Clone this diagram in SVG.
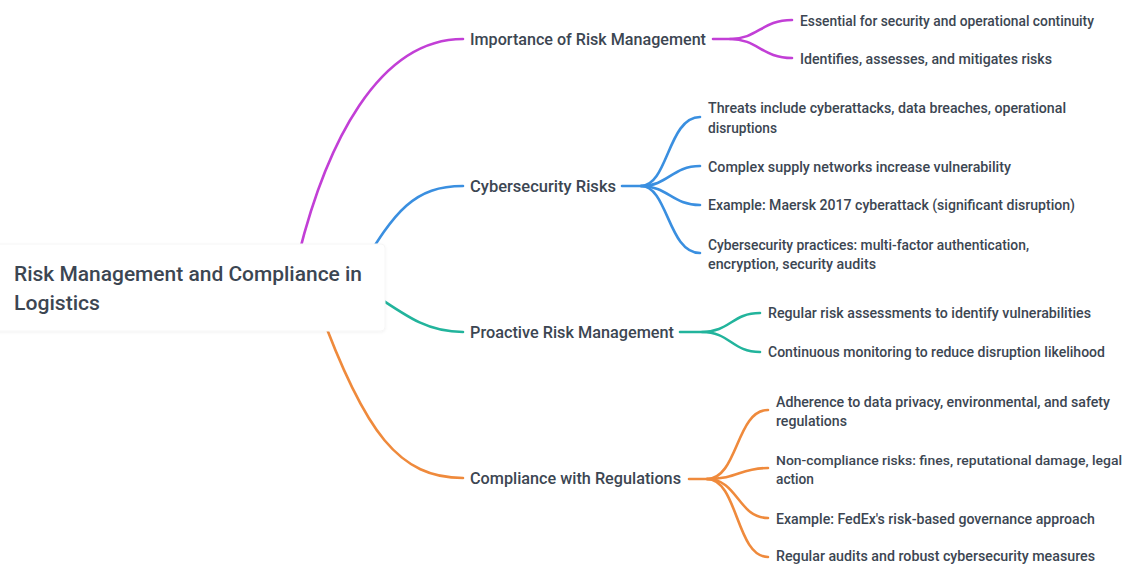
<svg xmlns="http://www.w3.org/2000/svg" width="1132" height="564" viewBox="0 0 1132 564">
<defs>
<style>
.t{font-family:Roboto,"Liberation Sans",sans-serif;fill:#3c4652;font-weight:500;}
.root{font-size:21px;}
.l1{font-size:17px;}
.l2{font-size:14.5px;}
.ln{fill:none;stroke-width:2.6;stroke-linecap:round;}
.pu{stroke:#c23fd6;}
.bl{stroke:#3a8fe0;}
.te{stroke:#22b49c;}
.or{stroke:#ef8a3c;}
</style>
<filter id="sh" x="-10%" y="-20%" width="120%" height="150%">
<feDropShadow dx="0" dy="1" stdDeviation="1.5" flood-color="#000" flood-opacity="0.05"/>
</filter>
</defs>
<rect width="1132" height="564" fill="#ffffff"/>
<g id="connectors">
<path class="ln pu" d="M295,270 C325,140 380,39 463,39"/>
<path class="ln bl" d="M360,270 C395,210 415,186 463,186"/>
<path class="ln te" d="M360,285 C405,315 425,332 463,332"/>
<path class="ln or" d="M318,305 C365,435 400,478 463,478"/>
<path class="ln pu" d="M713,39 L730,39 C758,39 762,20 792,20"/>
<path class="ln pu" d="M730,39 C758,39 762,58 792,58"/>
<path class="ln bl" d="M622,186 L641,186 C668,186 668,117 700,117"/>
<path class="ln bl" d="M641,186 C668,186 672,166 700,166"/>
<path class="ln bl" d="M641,186 C668,186 672,205 700,205"/>
<path class="ln bl" d="M641,186 C668,186 668,253 700,253"/>
<path class="ln te" d="M680,332 L702,332 C730,332 732,313 760,313"/>
<path class="ln te" d="M702,332 C730,332 732,352 760,352"/>
<path class="ln or" d="M689,479 L707,479 C738,479 736,410 768,410"/>
<path class="ln or" d="M707,479 C738,479 740,468 768,468"/>
<path class="ln or" d="M707,479 C738,479 738,518 768,518"/>
<path class="ln or" d="M707,479 C738,479 736,557 768,557"/>
</g>
<g id="root">
<rect x="-10" y="244" width="395" height="87" rx="4" fill="#ffffff" stroke="#f6f6f6" filter="url(#sh)"/>
<text class="t root" x="14" y="281" textLength="348" lengthAdjust="spacingAndGlyphs">Risk Management and Compliance in</text>
<text class="t root" x="14" y="310" textLength="86" lengthAdjust="spacingAndGlyphs">Logistics</text>
</g>
<g id="importance">
<text class="t l1" x="470" y="45" textLength="236" lengthAdjust="spacingAndGlyphs">Importance of Risk Management</text>
</g>
<g id="importance-1"><text class="t l2" x="800" y="26" textLength="294" lengthAdjust="spacingAndGlyphs">Essential for security and operational continuity</text></g>
<g id="importance-2"><text class="t l2" x="800" y="64" textLength="252" lengthAdjust="spacingAndGlyphs">Identifies, assesses, and mitigates risks</text></g>
<g id="cyber">
<text class="t l1" x="470" y="192" textLength="146" lengthAdjust="spacingAndGlyphs">Cybersecurity Risks</text>
</g>
<g id="cyber-1">
<text class="t l2" x="708" y="113" textLength="358" lengthAdjust="spacingAndGlyphs">Threats include cyberattacks, data breaches, operational</text>
<text class="t l2" x="708" y="133" textLength="69" lengthAdjust="spacingAndGlyphs">disruptions</text>
</g>
<g id="cyber-2"><text class="t l2" x="708" y="172" textLength="303" lengthAdjust="spacingAndGlyphs">Complex supply networks increase vulnerability</text></g>
<g id="cyber-3"><text class="t l2" x="708" y="210" textLength="367" lengthAdjust="spacingAndGlyphs">Example: Maersk 2017 cyberattack (significant disruption)</text></g>
<g id="cyber-4">
<text class="t l2" x="708" y="250" textLength="321" lengthAdjust="spacingAndGlyphs">Cybersecurity practices: multi-factor authentication,</text>
<text class="t l2" x="708" y="269" textLength="168" lengthAdjust="spacingAndGlyphs">encryption, security audits</text>
</g>
<g id="proactive">
<text class="t l1" x="470" y="338" textLength="204" lengthAdjust="spacingAndGlyphs">Proactive Risk Management</text>
</g>
<g id="proactive-1"><text class="t l2" x="768" y="318" textLength="323" lengthAdjust="spacingAndGlyphs">Regular risk assessments to identify vulnerabilities</text></g>
<g id="proactive-2"><text class="t l2" x="768" y="357" textLength="337" lengthAdjust="spacingAndGlyphs">Continuous monitoring to reduce disruption likelihood</text></g>
<g id="compliance">
<text class="t l1" x="470" y="484" textLength="211" lengthAdjust="spacingAndGlyphs">Compliance with Regulations</text>
</g>
<g id="compliance-1">
<text class="t l2" x="776" y="407" textLength="334" lengthAdjust="spacingAndGlyphs">Adherence to data privacy, environmental, and safety</text>
<text class="t l2" x="776" y="426" textLength="71" lengthAdjust="spacingAndGlyphs">regulations</text>
</g>
<g id="compliance-2">
<text class="t l2" x="776" y="465" style="font-size:13.3px" textLength="346" lengthAdjust="spacingAndGlyphs">Non-compliance risks: fines, reputational damage, legal</text>
<text class="t l2" x="776" y="484" textLength="38" lengthAdjust="spacingAndGlyphs">action</text>
</g>
<g id="compliance-3"><text class="t l2" x="776" y="524" textLength="319" lengthAdjust="spacingAndGlyphs">Example: FedEx's risk-based governance approach</text></g>
<g id="compliance-4"><text class="t l2" x="776" y="561" textLength="319" lengthAdjust="spacingAndGlyphs">Regular audits and robust cybersecurity measures</text></g>
</svg>
